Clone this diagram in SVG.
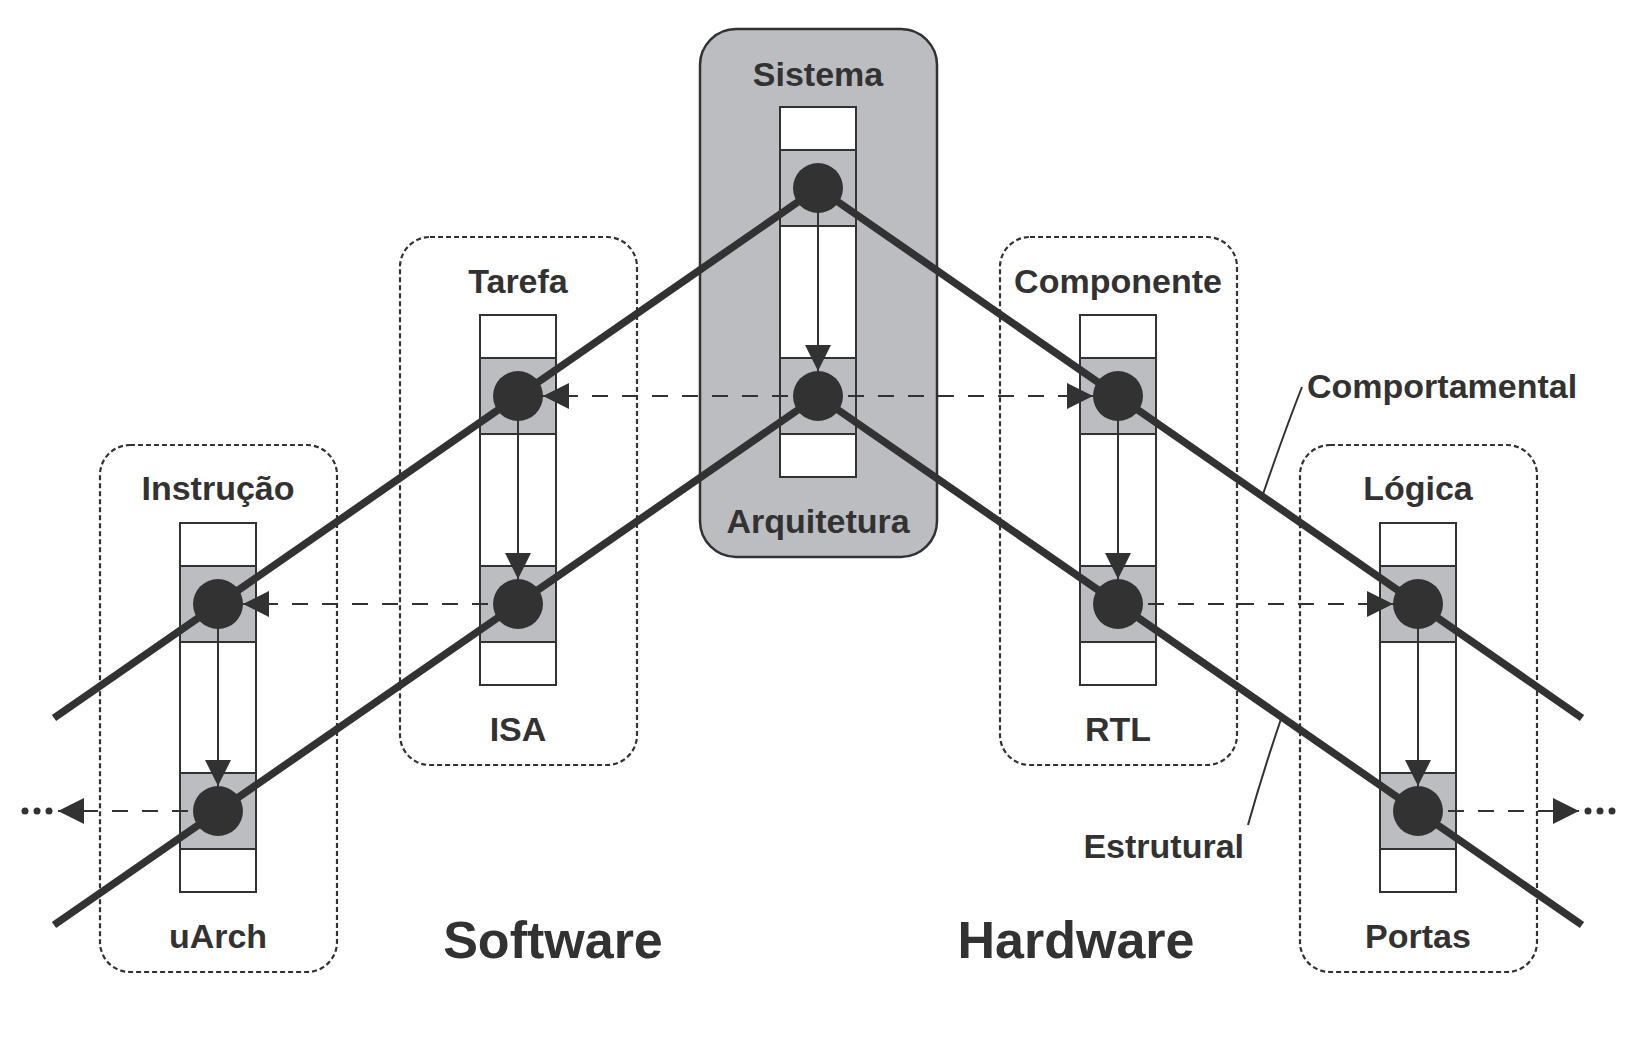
<svg xmlns="http://www.w3.org/2000/svg" width="1639" height="1046" viewBox="0 0 1639 1046">
<style>
.bg{fill:#ffffff}
.sys{fill:#bcbdc0;stroke:#333233;stroke-width:2.5}
.dot{fill:none;stroke:#333233;stroke-width:2.2;stroke-dasharray:5 3}
.col{fill:#ffffff;stroke:#333233;stroke-width:2}
.cell{fill:#bcbdc0;stroke:#333233;stroke-width:2}
.lbl{font-family:"Liberation Sans",Arial,sans-serif;font-weight:bold;font-size:34px;fill:#333233;text-anchor:middle}
.big{font-family:"Liberation Sans",Arial,sans-serif;font-weight:bold;font-size:52px;fill:#333233;text-anchor:middle}
.thick{stroke:#333233;stroke-width:7.5;fill:none}
.dash{stroke:#333233;stroke-width:2;fill:none;stroke-dasharray:16 14}
.thin{stroke:#333233;stroke-width:2;fill:none}
.node{fill:#333233}
</style>
<defs>
<marker id="ah" markerUnits="userSpaceOnUse" markerWidth="26" markerHeight="26" viewBox="0 0 24 24" refX="24" refY="12" orient="auto">
<path d="M0,0 L24,12 L0,24 Z" fill="#333233"/>
</marker>
</defs>
<rect class="bg" x="0" y="0" width="1639" height="1046"/>

<g id="sistema">
<rect class="sys" x="700" y="29" width="237" height="528" rx="36" ry="36"/>
<rect class="col" x="780" y="107" width="76" height="370"/>
<rect class="cell" x="780" y="150" width="76" height="76"/>
<rect class="cell" x="780" y="358" width="76" height="76"/>
<text class="lbl" x="818" y="86">Sistema</text>
<text class="lbl" x="818" y="533">Arquitetura</text>
</g>

<g id="tarefa">
<rect class="dot" x="400" y="237" width="237" height="528" rx="30" ry="30"/>
<rect class="col" x="480" y="315" width="76" height="370"/>
<rect class="cell" x="480" y="358" width="76" height="76"/>
<rect class="cell" x="480" y="566" width="76" height="76"/>
<text class="lbl" x="518" y="293">Tarefa</text>
<text class="lbl" x="518" y="741">ISA</text>
</g>

<g id="instrucao">
<rect class="dot" x="100" y="445" width="237" height="527" rx="30" ry="30"/>
<rect class="col" x="180" y="523" width="76" height="369"/>
<rect class="cell" x="180" y="566" width="76" height="76"/>
<rect class="cell" x="180" y="773" width="76" height="76"/>
<text class="lbl" x="218" y="500">Instrução</text>
<text class="lbl" x="218" y="948">uArch</text>
</g>

<g id="componente">
<rect class="dot" x="1000" y="237" width="237" height="528" rx="30" ry="30"/>
<rect class="col" x="1080" y="315" width="76" height="370"/>
<rect class="cell" x="1080" y="358" width="76" height="76"/>
<rect class="cell" x="1080" y="566" width="76" height="76"/>
<text class="lbl" x="1118" y="293">Componente</text>
<text class="lbl" x="1118" y="741">RTL</text>
</g>

<g id="logica">
<rect class="dot" x="1300" y="445" width="237" height="527" rx="30" ry="30"/>
<rect class="col" x="1380" y="523" width="76" height="369"/>
<rect class="cell" x="1380" y="566" width="76" height="76"/>
<rect class="cell" x="1380" y="773" width="76" height="76"/>
<text class="lbl" x="1418" y="500">Lógica</text>
<text class="lbl" x="1418" y="948">Portas</text>
</g>

<g id="connectors">
<line class="dash" x1="818" y1="396" x2="543" y2="396" marker-end="url(#ah)"/>
<line class="dash" x1="818" y1="396" x2="1093" y2="396" marker-end="url(#ah)"/>
<line class="dash" x1="518" y1="604" x2="243" y2="604" marker-end="url(#ah)"/>
<line class="dash" x1="1118" y1="604" x2="1393" y2="604" marker-end="url(#ah)"/>
<line class="dash" x1="218" y1="811" x2="58" y2="811" marker-end="url(#ah)"/>
<line class="dash" x1="1418" y1="811" x2="1579" y2="811" marker-end="url(#ah)"/>
<line class="thin" x1="818" y1="188" x2="818" y2="371" marker-end="url(#ah)"/>
<line class="thin" x1="518" y1="396" x2="518" y2="579" marker-end="url(#ah)"/>
<line class="thin" x1="1118" y1="396" x2="1118" y2="579" marker-end="url(#ah)"/>
<line class="thin" x1="218" y1="604" x2="218" y2="786" marker-end="url(#ah)"/>
<line class="thin" x1="1418" y1="604" x2="1418" y2="786" marker-end="url(#ah)"/>
<line class="thick" x1="54" y1="718" x2="818" y2="188"/>
<line class="thick" x1="54" y1="925" x2="818" y2="396"/>
<line class="thick" x1="1582" y1="718" x2="818" y2="188"/>
<line class="thick" x1="1582" y1="925" x2="818" y2="396"/>
<path class="thin" d="M1262,497 Q1285,430 1302,387"/>
<path class="thin" d="M1281,719 Q1262,775 1248,825"/>
<circle class="node" cx="25" cy="811" r="3.5"/>
<circle class="node" cx="37" cy="811" r="3.5"/>
<circle class="node" cx="49" cy="811" r="3.5"/>
<circle class="node" cx="1588" cy="811" r="3.5"/>
<circle class="node" cx="1600" cy="811" r="3.5"/>
<circle class="node" cx="1612" cy="811" r="3.5"/>
<circle class="node" cx="818" cy="188" r="25"/>
<circle class="node" cx="818" cy="396" r="25"/>
<circle class="node" cx="518" cy="396" r="25"/>
<circle class="node" cx="518" cy="604" r="25"/>
<circle class="node" cx="218" cy="604" r="25"/>
<circle class="node" cx="218" cy="811" r="25"/>
<circle class="node" cx="1118" cy="396" r="25"/>
<circle class="node" cx="1118" cy="604" r="25"/>
<circle class="node" cx="1418" cy="604" r="25"/>
<circle class="node" cx="1418" cy="811" r="25"/>
</g>

<text class="lbl" x="1307" y="398" style="text-anchor:start">Comportamental</text>
<text class="lbl" x="1244" y="858" style="text-anchor:end">Estrutural</text>
<text class="big" x="553" y="958">Software</text>
<text class="big" x="1076" y="958">Hardware</text>
</svg>
